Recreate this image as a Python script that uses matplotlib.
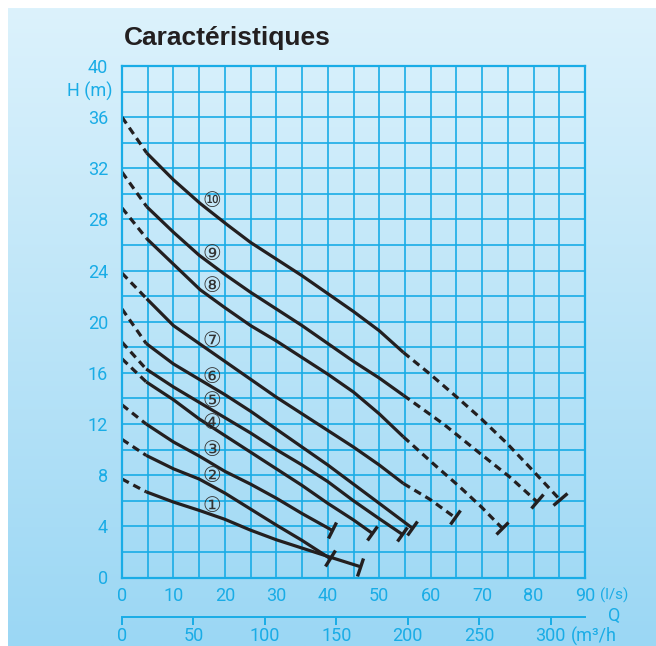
import matplotlib
matplotlib.use("Agg")
import matplotlib.pyplot as plt
import numpy as np
from matplotlib.markers import MarkerStyle
from matplotlib.transforms import Affine2D

# pump curves, Q in l/s, H in m
q_curves = [
    [0, 4.7, 10, 15, 20, 25, 30, 35, 40.4, 46.3],
    [0, 4.7, 10, 15, 20, 25, 30, 35, 40.4],
    [0, 4.7, 10, 15, 20, 25, 30, 35, 40.8],
    [0, 4.7, 10, 15, 20, 25, 30, 35, 40, 45, 48.5],
    [0, 4.7, 10, 15, 20, 25, 30, 35, 40, 45, 50, 54.4],
    [0, 4.7, 10, 15, 20, 25, 30, 35, 40, 45, 50, 56.3],
    [0, 4.8, 10, 15, 20, 25, 30, 35, 40, 45, 50, 54.7, 59.9, 64.7],
    [0, 4.8, 10, 15.2, 20, 25, 30, 35, 40, 45, 50, 54.7, 60.5, 65.7, 69.9, 73.8],
    [0, 4.8, 10, 15, 20, 25, 30, 35, 40, 45, 50, 54.7, 62.5, 69.6, 75.4, 80.6],
    [0, 4.8, 10, 15.2, 20.4, 25, 30, 35, 40, 45, 50, 54.7, 59.9, 65.1, 69.6, 74.8, 79.3, 85.1],
]
h_curves = [
    [7.7, 6.7, 5.9, 5.25, 4.55, 3.7, 2.95, 2.3, 1.6, 0.85],
    [10.8, 9.55, 8.5, 7.7, 6.6, 5.35, 4.1, 2.9, 1.5],
    [13.5, 12.0, 10.6, 9.5, 8.3, 7.3, 6.2, 5.0, 3.7],
    [17.1, 15.3, 13.9, 12.4, 11.1, 9.8, 8.5, 7.2, 5.8, 4.5, 3.5],
    [18.4, 16.3, 14.9, 13.7, 12.5, 11.3, 10.0, 8.8, 7.5, 6.0, 4.6, 3.4],
    [21.0, 18.3, 16.7, 15.5, 14.3, 13.0, 11.6, 10.2, 8.8, 7.3, 5.8, 3.9],
    [23.8, 21.8, 19.7, 18.3, 16.9, 15.5, 14.1, 12.8, 11.5, 10.2, 8.8, 7.35, 6.1, 4.7],
    [28.9, 26.5, 24.5, 22.5, 21.1, 19.7, 18.5, 17.2, 15.9, 14.5, 12.8, 11.0, 8.9, 7.07, 5.5, 3.9],
    [31.7, 29.0, 27.0, 25.2, 23.7, 22.3, 21.0, 19.7, 18.3, 16.9, 15.6, 14.25, 12.0, 9.7, 7.85, 5.95],
    [36.0, 33.2, 31.1, 29.25, 27.6, 26.2, 24.9, 23.6, 22.2, 20.8, 19.3, 17.6, 15.9, 14.1, 12.5, 10.5, 8.6, 6.1],
]
# index where the solid part stops (rest is dashed)
solid_end = [9, 8, 8, 10, 11, 11, 11, 11, 11, 11]

curve_labels = ['①', '②', '③', '④', '⑤', '⑥', '⑦', '⑧', '⑨', '⑩']
label_h = [5.56, 7.91, 9.94, 12.05, 13.78, 15.66, 18.47, 22.78, 25.28, 29.43]

q_ticks = [0, 10, 20, 30, 40, 50, 60, 70, 80, 90]
h_ticks = [0, 4, 8, 12, 16, 20, 24, 28, 32, 36, 40]
m3h_ticks = [0, 50, 100, 150, 200, 250, 300]

W, H = 656, 646
blue = '#19ace6'
ink = '#231f20'
tick_font = 'Roboto'

fig = plt.figure(figsize=(W / 100, H / 100), dpi=100)

# gradient background with white margin top/left
bg = fig.add_axes([8 / W, 0, 1 - 8 / W, 1 - 8 / H])
top = np.array([0xdc, 0xf2, 0xfc]) / 255
bot = np.array([0x9b, 0xd7, 0xf4]) / 255
t = np.linspace(0, 1, 256)[:, None]
grad = top * (1 - t) + bot * t
bg.imshow(grad[:, None, :], aspect='auto', extent=[0, 1, 0, 1])
bg.axis('off')
bg.set_zorder(-10)

ax = fig.add_axes([122 / W, 1 - 577.5 / H, 463 / W, 511.5 / H])
ax.patch.set_alpha(0)
ax.set_xlim(0, 90)
ax.set_ylim(0, 40)
ax.set_xticks(q_ticks)
ax.set_xticks(np.arange(0, 91, 5), minor=True)
ax.set_yticks(h_ticks)
ax.set_yticks(np.arange(0, 41, 2), minor=True)
ax.grid(True, which='both', color=blue, lw=1.2)
ax.set_axisbelow(True)
ax.tick_params(which='both', length=0, colors=blue, labelsize=13)
ax.tick_params(axis='x', pad=7)
ax.tick_params(axis='y', pad=10)
for lab in ax.get_xticklabels() + ax.get_yticklabels():
    lab.set_family(tick_font)
for sp in ax.spines.values():
    sp.set_color(blue)
    sp.set_linewidth(1.6)

for q, h, k in zip(q_curves, h_curves, solid_end):
    ax.plot(q[:2], h[:2], color=ink, lw=2.3, ls='--', dashes=(2.4, 1.6))
    ax.plot(q[1:k + 1], h[1:k + 1], color=ink, lw=2.3,
            solid_capstyle='butt', solid_joinstyle='round')
    if k < len(q) - 1:
        ax.plot(q[k:], h[k:], color=ink, lw=2.3, ls='--', dashes=(2.4, 1.6))

# end bars perpendicular to the curve
for q, h in zip(q_curves, h_curves):
    p1 = ax.transData.transform((q[-2], h[-2]))
    p2 = ax.transData.transform((q[-1], h[-1]))
    ang = np.degrees(np.arctan2(p2[1] - p1[1], p2[0] - p1[0]))
    m = MarkerStyle('|', transform=Affine2D().rotate_deg(ang))
    ax.plot([q[-1]], [h[-1]], marker=m, ms=13, mew=2.4, color=ink, ls='none')

for lab, y in zip(curve_labels, label_h):
    ax.text(17.5, y, lab, ha='center', va='center', fontsize=15,
            color='#333333', family='DejaVu Sans')

# second flow scale in m3/h
ax2 = fig.add_axes([122 / W, 1 - 617 / H, 463 / W, 0.0001])
ax2.set_xlim(0, 90 * 3.6)
ax2.patch.set_alpha(0)
ax2.set_yticks([])
for s in ['top', 'left', 'right']:
    ax2.spines[s].set_visible(False)
ax2.spines['bottom'].set_color(blue)
ax2.spines['bottom'].set_linewidth(1.4)
ax2.set_xticks(m3h_ticks)
ax2.tick_params(axis='x', direction='out', length=6, width=1.4, colors=blue,
                labelsize=13, pad=1.5)
for lab in ax2.get_xticklabels():
    lab.set_family(tick_font)

fig.text(124 / W, 1 - 45 / H, 'Caractéristiques', fontsize=19, fontweight='bold',
         family='Liberation Sans', color=ink, va='baseline')
fig.text(112 / W, 1 - 91.5 / H, 'H (m)', fontsize=13, color=blue, ha='right',
         va='center', family=tick_font)
fig.text(600 / W, 1 - 595 / H, '(l/s)', fontsize=11, color=blue, ha='left',
         va='center', family=tick_font)
fig.text(614 / W, 1 - 616 / H, 'Q', fontsize=13, color=blue, ha='center',
         va='center', family=tick_font)
fig.text(571 / W, 1 - 636 / H, '(m³/h', fontsize=13, color=blue, ha='left',
         va='center', family=tick_font)

fig.savefig('out.png', dpi=100)
